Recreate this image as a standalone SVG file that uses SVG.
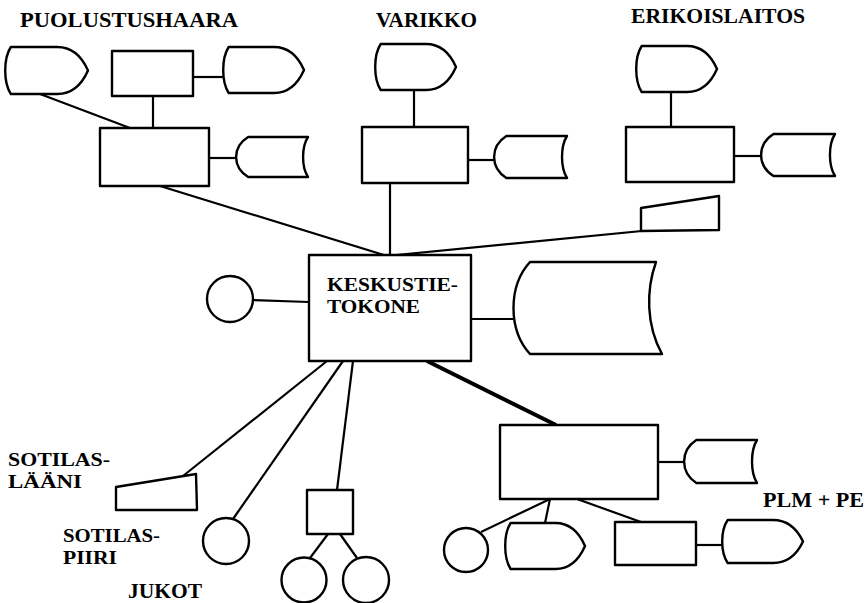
<svg xmlns="http://www.w3.org/2000/svg" xmlns:xlink="http://www.w3.org/1999/xlink" width="865" height="603" viewBox="0 0 865 603">
<style>
.s{fill:#fff;stroke:#000;stroke-width:2.4;stroke-linejoin:round}
.u{fill:#fff;stroke:#000;stroke-width:2.4;vector-effect:non-scaling-stroke;stroke-linejoin:round}
.c line{stroke:#000;stroke-width:2.2}
.t{font-family:"Liberation Serif","Times New Roman",serif;font-weight:bold;font-size:20px;fill:#000}
.m{font-size:19px}
</style>
<defs>
<path id="disp" class="u" d="M7,0 H63 C84,0 95,30 100,50 C95,70 84,100 63,100 H7 C-2,75 -2,25 7,0 Z"/>
<path id="stor" class="u" d="M18,0 H100 C91,25 91,75 100,100 H18 C-4,75 -4,25 18,0 Z"/>
</defs>
<rect width="865" height="603" fill="#fff"/>
<g class="c" id="connectors">
<line x1="193" y1="77" x2="223" y2="77"/>
<line x1="153" y1="96" x2="153" y2="128"/>
<line x1="40" y1="94" x2="130" y2="128"/>
<line x1="209" y1="158" x2="236" y2="158"/>
<line x1="160" y1="186" x2="384" y2="255"/>
<line x1="414" y1="90" x2="414" y2="127"/>
<line x1="468" y1="160" x2="494" y2="160"/>
<line x1="390" y1="183" x2="390" y2="255"/>
<line x1="671" y1="92" x2="671" y2="127"/>
<line x1="734" y1="156" x2="761" y2="156"/>
<line x1="396" y1="255" x2="652" y2="230"/>
<line x1="253" y1="300" x2="309" y2="302"/>
<line x1="471" y1="319" x2="514" y2="319"/>
<line x1="327" y1="361" x2="183" y2="476"/>
<line x1="343" y1="361" x2="233" y2="519"/>
<line x1="353" y1="361" x2="337" y2="490"/>
<line x1="328" y1="534" x2="310" y2="558"/>
<line x1="340" y1="534" x2="357" y2="558"/>
<line x1="427" y1="361" x2="556" y2="425" style="stroke-width:4"/>
<line x1="658" y1="462" x2="684" y2="462"/>
<line x1="550" y1="499" x2="481" y2="532"/>
<line x1="550" y1="499" x2="545" y2="523"/>
<line x1="577" y1="499" x2="641" y2="522"/>
<line x1="696" y1="545" x2="723" y2="545"/>
</g>
<g id="puolustushaara">
<text class="t" x="20" y="27" textLength="218" lengthAdjust="spacingAndGlyphs">PUOLUSTUSHAARA</text>
<use xlink:href="#disp" transform="translate(5,47) scale(0.83,0.47)"/>
<rect class="s" x="112" y="51" width="81" height="45"/>
<use xlink:href="#disp" transform="translate(223,47) scale(0.81,0.46)"/>
<rect class="s" x="100" y="128" width="109" height="58"/>
<use xlink:href="#stor" transform="translate(235,137) scale(0.73,0.40)"/>
</g>
<g id="varikko">
<text class="t" x="376" y="27" textLength="101" lengthAdjust="spacingAndGlyphs">VARIKKO</text>
<use xlink:href="#disp" transform="translate(375,44) scale(0.81,0.46)"/>
<rect class="s" x="362" y="127" width="106" height="56"/>
<use xlink:href="#stor" transform="translate(493,136) scale(0.74,0.42)"/>
</g>
<g id="erikoislaitos">
<text class="t" x="631" y="23" textLength="174" lengthAdjust="spacingAndGlyphs">ERIKOISLAITOS</text>
<use xlink:href="#disp" transform="translate(636,46) scale(0.81,0.46)"/>
<rect class="s" x="626" y="127" width="108" height="55"/>
<use xlink:href="#stor" transform="translate(760,134) scale(0.75,0.42)"/>
<path class="s" d="M641,208 L719,196 L719,230 L641,231 Z"/>
</g>
<g id="keskus">
<rect class="s" x="309" y="255" width="162" height="106"/>
<text class="t m" x="327" y="291" textLength="131" lengthAdjust="spacingAndGlyphs">KESKUSTIE-</text>
<text class="t m" x="327" y="313" textLength="93" lengthAdjust="spacingAndGlyphs">TOKONE</text>
</g>
<g id="circle-left"><circle class="s" cx="230" cy="299" r="23"/></g>
<g id="big-storage">
<path class="s" d="M530,262 H656 C646,290 646,325 662,354 H530 C508,330 508,286 530,262 Z"/>
</g>
<g id="sotilaslaani">
<text class="t m" x="8" y="466" textLength="102" lengthAdjust="spacingAndGlyphs">SOTILAS-</text>
<text class="t m" x="8" y="488" textLength="74" lengthAdjust="spacingAndGlyphs">LÄÄNI</text>
<path class="s" d="M116,487 L196,474 L197,510 L116,510 Z"/>
</g>
<g id="sotilaspiiri">
<text class="t m" x="63" y="542" textLength="97" lengthAdjust="spacingAndGlyphs">SOTILAS-</text>
<text class="t m" x="63" y="564" textLength="54" lengthAdjust="spacingAndGlyphs">PIIRI</text>
<circle class="s" cx="226" cy="541" r="23"/>
</g>
<g id="jukot">
<text class="t" x="128" y="598" textLength="74" lengthAdjust="spacingAndGlyphs">JUKOT</text>
<rect class="s" x="307" y="490" width="46" height="44"/>
<circle class="s" cx="304" cy="580" r="22.5"/>
<circle class="s" cx="366" cy="580" r="23"/>
</g>
<g id="plm-pe">
<rect class="s" x="500" y="425" width="158" height="74"/>
<use xlink:href="#stor" transform="translate(683,440) scale(0.74,0.43)"/>
<text class="t" x="763" y="507" textLength="101" lengthAdjust="spacingAndGlyphs">PLM + PE</text>
<circle class="s" cx="466" cy="550" r="22"/>
<use xlink:href="#disp" transform="translate(505,523) scale(0.80,0.46)"/>
<rect class="s" x="615" y="522" width="81" height="43"/>
<use xlink:href="#disp" transform="translate(722,520) scale(0.81,0.43)"/>
</g>
</svg>
